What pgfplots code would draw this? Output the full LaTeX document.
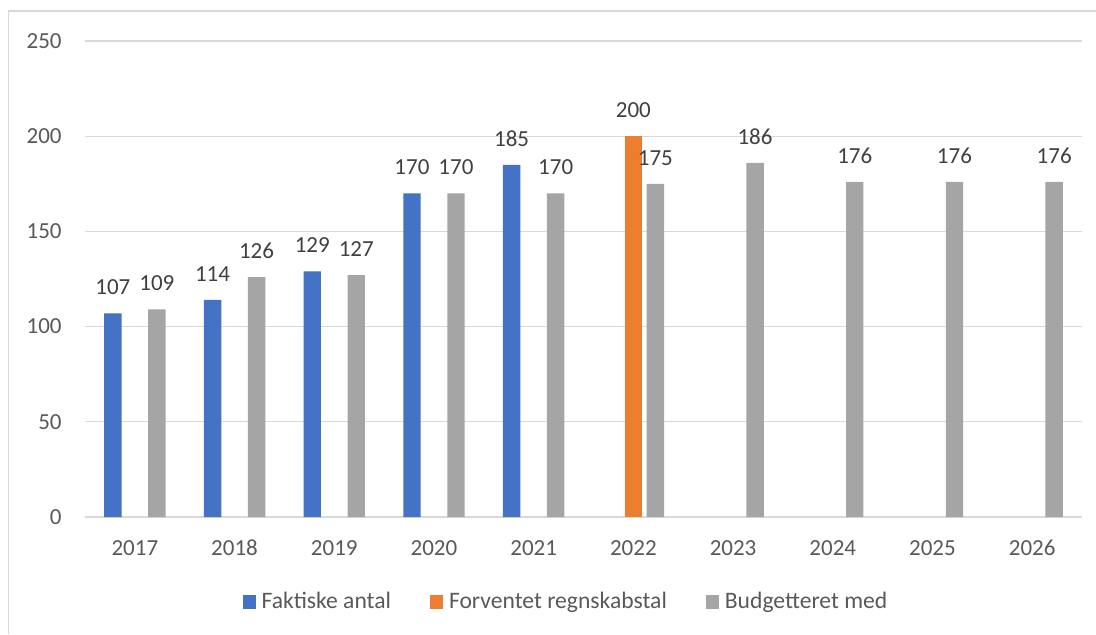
\documentclass[border=0pt]{standalone}
\usepackage{pgfplots}
\pgfplotsset{compat=1.18}
\usepackage{fontspec}
\setmainfont{Carlito}
\definecolor{cblue}{HTML}{4472C4}
\definecolor{corange}{HTML}{ED7D31}
\definecolor{cgray}{HTML}{A5A5A5}
\definecolor{txt}{HTML}{595959}
\definecolor{lbl}{HTML}{404040}
\definecolor{gridc}{HTML}{D9D9D9}
\pgfplotsset{sq/.style={legend image code/.code={\fill[##1,draw=none] (0pt,-3.3pt) rectangle (6.6pt,3.3pt);}}}
\begin{document}
\begin{tikzpicture}
\useasboundingbox (0,0) rectangle (548pt,317pt);
\draw[gridc, line width=0.6pt] (4.25pt,0) -- (4.25pt,311.5pt) -- (548pt,311.5pt);
\begin{axis}[at={(42.5pt,58.5pt)}, anchor=south west, scale only axis,
 width=498.5pt, height=238pt,
 ybar=0pt, bar width=8.7pt,
 xmin=-0.5, xmax=9.5, ymin=0, ymax=250,
 xtick={0,1,2,3,4,5,6,7,8,9},
 xticklabels={2017,2018,2019,2020,2021,2022,2023,2024,2025,2026},
 ytick={0,50,100,150,200,250},
 axis line style={draw=none}, major tick length=0pt,
 ymajorgrids, major grid style={gridc, line width=0.6pt},
 tick label style={font=\fontsize{11.5}{13}\selectfont, text=txt, inner sep=0pt},
 /pgf/number format/assume math mode=true,
 yticklabel style={xshift=-11.5pt},
 xticklabel style={yshift=-11.8pt, text height=7.4pt, text depth=0pt},
 clip=false,
 nodes near coords,
 every node near coord/.append style={font=\fontsize{11.5}{13}\selectfont, text=lbl, inner sep=0pt, yshift=9pt},
 legend style={at={(0.4814,-0.1786)}, anchor=center, draw=none, fill=none,
   legend columns=3, font=\fontsize{11.8}{13}\selectfont, text=txt,
   nodes={inner sep=0pt},
   /tikz/every odd column/.append style={column sep=2.9pt}},
]
\addplot[fill=cblue, draw=none, bar shift=-11pt, sq] coordinates {(0,107) (1,114) (2,129) (3,170) (4,185)};
\addplot[fill=corange, draw=none, bar shift=0pt, sq] coordinates {(5,200)};
\addplot[fill=cgray, draw=none, bar shift=11pt, sq] coordinates {(0,109) (1,126) (2,127) (3,170) (4,170) (5,175) (6,186) (7,176) (8,176) (9,176)};
\legend{Faktiske antal\rule{19.5pt}{0pt}, Forventet regnskabstal\rule{19.5pt}{0pt}, Budgetteret med}
\end{axis}
\end{tikzpicture}
\end{document}
